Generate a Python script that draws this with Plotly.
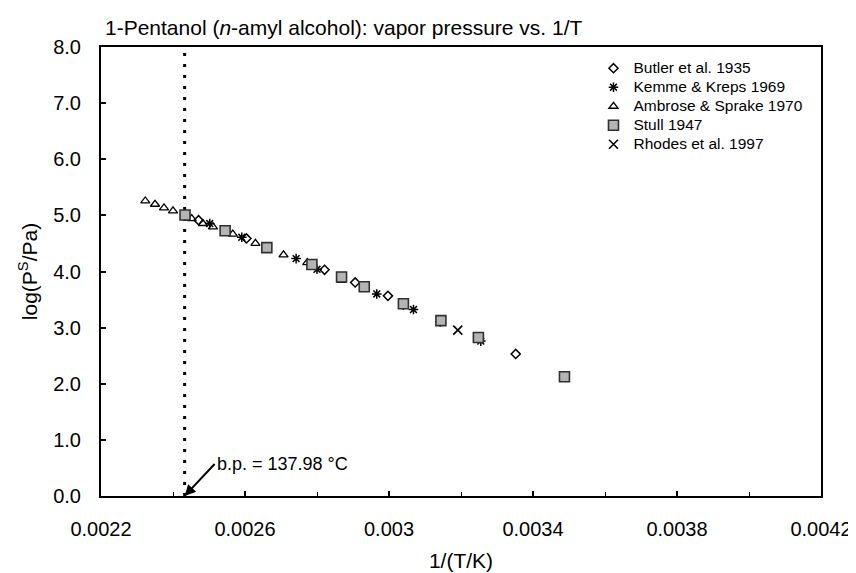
import plotly.graph_objects as go

# ---- data (1/T in 1/K, log10 of vapor pressure in Pa) ----
butler_x = [0.002471, 0.002604, 0.002821, 0.002906, 0.002997, 0.003352]
butler_y = [4.915, 4.589, 4.030, 3.805, 3.566, 2.531]

kemme_x = [0.002502, 0.002591, 0.002742, 0.002800, 0.002966, 0.003040, 0.003068, 0.003142, 0.003255]
kemme_y = [4.855, 4.610, 4.230, 4.040, 3.600, 3.400, 3.322, 3.100, 2.760]

ambrose_x = [0.002323, 0.002350, 0.002375, 0.002400, 0.002452, 0.002483,
             0.002511, 0.002566, 0.002629, 0.002707, 0.002773, 0.002868]
ambrose_y = [5.257, 5.198, 5.133, 5.080, 4.943, 4.855,
             4.796, 4.667, 4.500, 4.295, 4.159, 3.841]

stull_x = [0.0024334, 0.0025448, 0.0026607, 0.0027859, 0.0028682,
           0.0029313, 0.0030400, 0.0031442, 0.0032483, 0.0034874]
stull_y = [5.006, 4.727, 4.426, 4.125, 3.903, 3.727, 3.426, 3.125, 2.824, 2.125]

rhodes_x = [0.003191]
rhodes_y = [2.956]

series_names = ["Butler et al. 1935", "Kemme &amp; Kreps 1969", "Ambrose &amp; Sprake 1970",
                "Stull 1947", "Rhodes et al. 1997"]

bp_celsius = 137.98
bp_inv_T = 1.0 / (bp_celsius + 273.15)

x_tickvals = [0.0022, 0.0026, 0.0030, 0.0034, 0.0038, 0.0042]
x_ticktext = ["0.0022", "0.0026", "0.003", "0.0034", "0.0038", "0.0042"]
y_tickvals = [0, 1, 2, 3, 4, 5, 6, 7, 8]
y_ticktext = ["0.0", "1.0", "2.0", "3.0", "4.0", "5.0", "6.0", "7.0", "8.0"]

FONT = "Liberation Sans, Arial, sans-serif"
INK = "#000000"
LEGEND_TEXT_PX = 15.5


def legend_label(name):
    return '<span style="font-size:%spx">%s</span>' % (LEGEND_TEXT_PX, name)


fig = go.Figure()

fig.add_trace(go.Scatter(
    x=butler_x, y=butler_y, mode="markers", name=legend_label(series_names[0]),
    marker=dict(symbol="diamond-open", size=7, color=INK, line=dict(width=1.5, color=INK))))
fig.add_trace(go.Scatter(
    x=kemme_x, y=kemme_y, mode="markers", name=legend_label(series_names[1]),
    marker=dict(symbol="asterisk-open", size=8, color=INK, line=dict(width=1.5, color=INK))))
fig.add_trace(go.Scatter(
    x=ambrose_x, y=ambrose_y, mode="markers", name=legend_label(series_names[2]),
    marker=dict(symbol="triangle-up-open", size=8, color=INK, line=dict(width=1.3, color=INK))))
fig.add_trace(go.Scatter(
    x=stull_x, y=stull_y, mode="markers", name=legend_label(series_names[3]),
    marker=dict(symbol="square", size=10, color="#b4b4b4", line=dict(width=1.6, color="#303030"))))
fig.add_trace(go.Scatter(
    x=rhodes_x, y=rhodes_y, mode="markers", name=legend_label(series_names[4]),
    marker=dict(symbol="x-thin-open", size=9, color=INK, line=dict(width=1.6, color=INK))))

# boiling point dotted line
fig.add_shape(type="line", xref="x", yref="y", x0=bp_inv_T, x1=bp_inv_T, y0=0, y1=8,
              line=dict(color=INK, width=3, dash="3px,8px"), layer="below")

fig.add_annotation(
    x=bp_inv_T, y=0, xref="x", yref="y",
    text="b.p. = %.2f °C" % bp_celsius,
    showarrow=True, ax=30, ay=-32, xanchor="left", yanchor="middle",
    arrowhead=2, arrowsize=1.1, arrowwidth=2, arrowcolor=INK, standoff=0,
    font=dict(family=FONT, size=18, color=INK))

fig.update_layout(
    width=856, height=573,
    margin=dict(l=93, r=38, t=39, b=82),
    paper_bgcolor="white", plot_bgcolor="white",
    font=dict(family=FONT, color=INK, size=20),
    title=dict(text="1-Pentanol (<i>n</i>-amyl alcohol): vapor pressure vs. 1/T",
               x=97 / 856, xanchor="left", xref="container", y=1 - 20 / 573, yanchor="middle",
               font=dict(family=FONT, size=21, color=INK)),
    showlegend=True,
    legend=dict(x=0.684, y=0.985, xanchor="left", yanchor="top",
                bgcolor="rgba(0,0,0,0)", borderwidth=0,
                font=dict(family=FONT, size=12, color=INK), itemwidth=30),
    xaxis=dict(range=[0.0022, 0.0042], tickvals=x_tickvals, ticktext=x_ticktext,
               showgrid=False, zeroline=False, showline=True, linecolor=INK, linewidth=2,
               mirror=True, ticks="inside", ticklen=5, tickwidth=1.5, tickcolor=INK,
               minor=dict(dtick=0.0002, tick0=0.0022, ticks="inside", ticklen=4, tickwidth=1, tickcolor=INK),
               tickfont=dict(size=20), ticklabelstandoff=14,
               title=dict(text="1/(T/K)", font=dict(size=21), standoff=14)),
    yaxis=dict(range=[0, 8], tickvals=y_tickvals, ticktext=y_ticktext,
               showgrid=False, zeroline=False, showline=True, linecolor=INK, linewidth=2,
               mirror=True, ticks="inside", ticklen=5, tickwidth=1.5, tickcolor=INK,
               tickfont=dict(size=20), ticklabelstandoff=14,
               title=dict(text="log(P<sup>S</sup>/Pa)", font=dict(size=21), standoff=10)),
)

fig.write_html("out.html")
